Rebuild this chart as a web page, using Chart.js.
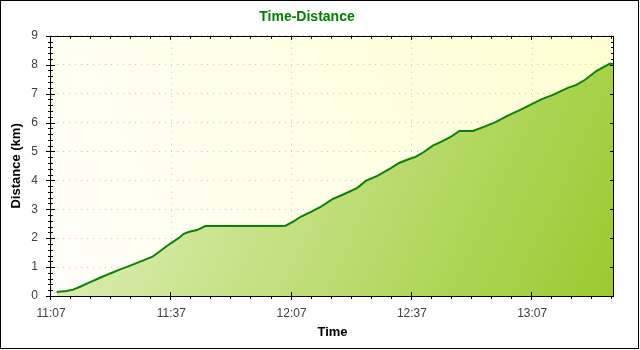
<!DOCTYPE html>
<html>
<head>
<meta charset="utf-8">
<script src="https://cdn.jsdelivr.net/npm/chart.js@4/dist/chart.umd.min.js"></script>
<style>
  html, body { margin: 0; padding: 0; background: #fff; }
  #wrap { width: 640px; height: 350px; }
</style>
</head>
<body>
<div id="wrap"><canvas id="myChart" width="640" height="350"></canvas></div>
<script>
// run started 11:07, x values are minutes after that
const startHour = 11;
const startMinute = 7;
const elapsedMin = [1.4, 3.9, 5.5, 7.25, 9.5, 12.25, 14.75, 17.25, 19.75, 22.25,
    25.2, 27, 28.9, 30.5, 31.8, 33.1, 34.5, 36.4, 38.5, 57.4,
    58.5, 60.5, 62.25, 64.7, 67.1, 70.2, 73, 76.4, 78.5, 81.5,
    84.75, 86.8, 89, 91, 93, 95.2, 97.5, 99.75, 101.8, 105.2,
    108.1, 111, 113.9, 116.5, 118.9, 122.25, 125, 128.9, 131, 133.1,
    136, 138.1, 139.3, 140.4];
const distanceKm = [0.14, 0.17, 0.22, 0.32, 0.46, 0.63, 0.78, 0.92, 1.05, 1.19,
    1.35, 1.53, 1.73, 1.88, 2.0, 2.15, 2.22, 2.28, 2.42, 2.42,
    2.43, 2.58, 2.74, 2.9, 3.07, 3.35, 3.52, 3.74, 3.98, 4.16,
    4.42, 4.6, 4.72, 4.82, 4.98, 5.2, 5.35, 5.51, 5.71, 5.71,
    5.86, 6.02, 6.24, 6.4, 6.57, 6.8, 6.95, 7.2, 7.3, 7.47,
    7.78, 7.94, 8.03, 8.03];
const timeTicks = [0, 30, 60, 90, 120];
const distTicks = [0, 1, 2, 3, 4, 5, 6, 7, 8, 9];

function timeLabel(v) {
    let m = startHour * 60 + startMinute + Math.round(v);
    let h = Math.floor(m / 60);
    let mm = m % 60;
    return h + ':' + (mm < 10 ? '0' : '') + mm;
}

const points = elapsedMin.map((t, i) => ({x: t, y: distanceKm[i]}));

// plot background + outer frame
const frame = {
    id: 'frame',
    beforeDraw(chart) {
        const {ctx, chartArea: a} = chart;
        ctx.save();
        let g = ctx.createLinearGradient(a.left, a.bottom, a.right, a.top);
        g.addColorStop(0, '#fffffa');
        g.addColorStop(1, '#ffffd2');
        ctx.fillStyle = g;
        ctx.fillRect(a.left, a.top, a.right - a.left, a.bottom - a.top);
        ctx.restore();
    },
    beforeDatasetsDraw(chart) {
        drawTicks(chart, false);
    },
    afterDatasetsDraw(chart) {
        drawTicks(chart, true);
        const {ctx, chartArea: a} = chart;
        ctx.save();
        ctx.strokeStyle = '#000';
        ctx.lineWidth = 1;
        ctx.strokeRect(Math.round(a.left) - 0.5, Math.round(a.top) + 0.5,
            Math.round(a.right - a.left), Math.round(a.bottom - a.top));
        ctx.strokeRect(0.5, 0.5, 638, 348);
        ctx.restore();
    }
};

function drawTicks(chart, major) {
    const {ctx, chartArea: a, scales: {x, y}} = chart;
    ctx.save();
    ctx.strokeStyle = '#000';
    ctx.lineWidth = 1;
    ctx.beginPath();
    for (let v = 0; v <= x.max; v += 5) {
        let isMajor = timeTicks.includes(v);
        if (isMajor !== major) continue;
        let px = Math.round(x.getPixelForValue(v)) - 0.5;
        if (isMajor) {
            ctx.moveTo(px, a.bottom - 4); ctx.lineTo(px, a.bottom + 4);
            ctx.moveTo(px, a.top); ctx.lineTo(px, a.top + 4);
        } else {
            ctx.moveTo(px, a.bottom - 2); ctx.lineTo(px, a.bottom + 3);
            ctx.moveTo(px, a.top); ctx.lineTo(px, a.top + 3);
        }
    }
    for (let k = 0; k <= 45; k++) {
        let v = k / 5;
        let isMajor = k % 5 === 0;
        if (isMajor !== major) continue;
        let py = Math.round(y.getPixelForValue(v)) + 0.5;
        if (isMajor) {
            ctx.moveTo(a.left - 5, py); ctx.lineTo(a.left + 4, py);
            ctx.moveTo(a.right - 4, py); ctx.lineTo(a.right, py);
        } else {
            ctx.moveTo(a.left - 3, py); ctx.lineTo(a.left + 2, py);
            ctx.moveTo(a.right - 3, py); ctx.lineTo(a.right, py);
        }
    }
    ctx.stroke();
    ctx.restore();
}

function areaFill(context) {
    const a = context.chart.chartArea;
    if (!a) return '#c8e48a';
    const g = context.chart.ctx.createLinearGradient(a.left, a.top, a.right, a.bottom);
    g.addColorStop(0, 'rgb(232,244,204)');
    g.addColorStop(1, 'rgb(154,202,46)');
    return g;
}

new Chart(document.getElementById('myChart'), {
    type: 'line',
    data: {
        datasets: [{
            label: 'Distance',
            data: points,
            borderColor: '#0a820a',
            borderWidth: 2,
            backgroundColor: areaFill,
            fill: 'origin',
            pointRadius: 0,
            tension: 0
        }]
    },
    plugins: [frame],
    options: {
        responsive: false,
        animation: false,
        layout: { padding: { left: 0, right: 26, top: 0, bottom: 0 } },
        plugins: {
            legend: { display: false },
            tooltip: { enabled: false },
            title: {
                display: true,
                text: 'Time-Distance',
                color: '#008000',
                font: { family: 'Liberation Sans', size: 14, weight: 'bold', lineHeight: 1.2 },
                padding: { top: 9, bottom: 10 }
            }
        },
        scales: {
            x: {
                type: 'linear',
                min: 0,
                max: 140.4,
                afterFit: (s) => { s.height = 54; },
                border: { display: false, dash: [1, 5] },
                grid: { color: '#c8c8c8', drawTicks: false },
                afterBuildTicks: (s) => { s.ticks = timeTicks.map(v => ({value: v})); },
                ticks: {
                    includeBounds: false,
                    padding: 10,
                    maxRotation: 0,
                    color: '#404040',
                    font: { family: 'Liberation Sans', size: 12 },
                    callback: (v) => timeLabel(v)
                },
                title: {
                    display: true,
                    text: 'Time',
                    color: '#000',
                    font: { family: 'Liberation Sans', size: 13, weight: 'bold', lineHeight: 1.2 },
                    padding: { top: 0, bottom: 10 }
                }
            },
            y: {
                min: 0,
                max: 9,
                afterFit: (s) => { s.width = 51; },
                border: { display: false, dash: [1, 5] },
                grid: { color: '#c8c8c8', drawTicks: false },
                afterBuildTicks: (s) => { s.ticks = distTicks.map(v => ({value: v})); },
                ticks: {
                    padding: 13,
                    color: '#404040',
                    font: { family: 'Liberation Sans', size: 12 }
                },
                title: {
                    display: true,
                    text: 'Distance (km)',
                    color: '#000',
                    font: { family: 'Liberation Sans', size: 13, weight: 'bold', lineHeight: 1.2 },
                    padding: { top: 9, bottom: 0 }
                }
            }
        }
    }
});
</script>
</body>
</html>
